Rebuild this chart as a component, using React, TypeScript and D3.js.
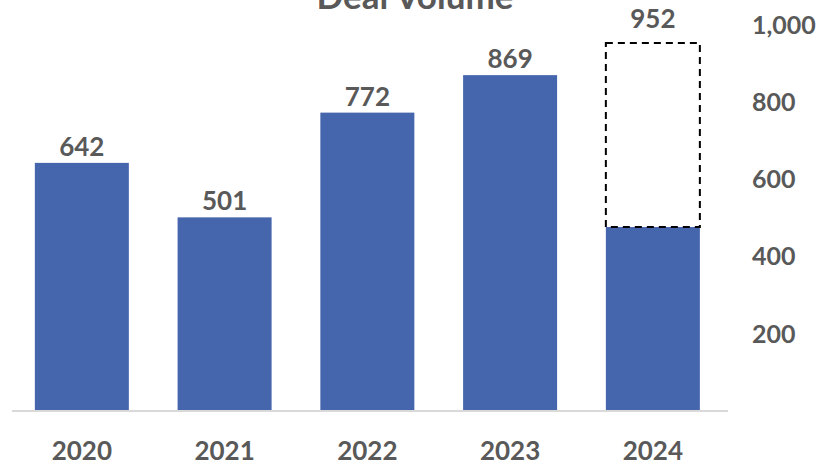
import React from "react";
import * as d3 from "d3";

const years = ["2020", "2021", "2022", "2023", "2024"];
const dealVolume = [642, 501, 772, 869, 476];
// 2024 full-year projection (dashed outline)
const projectedYear = "2024";
const projectedValue = 952;
const yTicks = [200, 400, 600, 800, 1000];

const width = 835;
const height = 465;
const font = "Lato, 'Open Sans', sans-serif";
const textColor = "#595959";

const App = () => {
  const x = d3
    .scaleBand<string>()
    .domain(years)
    .range([12, 722.7])
    .paddingInner(0.3415)
    .paddingOuter(0.16);

  const y = d3.scaleLinear().domain([0, 1000]).range([411, 24.5]);
  const fmt = d3.format(",");

  const px = x(projectedYear)!;

  return (
    <svg
      width={width}
      height={height}
      style={{ position: "absolute", left: 0, top: 0, background: "#fff" }}
    >
      <text
        x={415}
        y={9}
        textAnchor="middle"
        fontFamily={font}
        fontWeight={700}
        fontSize={35}
        fill={textColor}
      >
        Deal Volume
      </text>

      {/* bars */}
      {years.map((yr, i) => (
        <rect
          key={yr}
          x={x(yr)}
          y={y(dealVolume[i])}
          width={x.bandwidth()}
          height={y(0) - y(dealVolume[i])}
          fill="#4565ad"
        />
      ))}

      {/* projected outline */}
      <rect
        x={px}
        y={y(projectedValue)}
        width={x.bandwidth()}
        height={y(dealVolume[years.indexOf(projectedYear)]) - y(projectedValue)}
        fill="none"
        stroke="#000"
        strokeWidth={2}
        strokeDasharray="7 5"
      />

      {/* data labels */}
      {years.map((yr, i) => {
        const v = yr === projectedYear ? projectedValue : dealVolume[i];
        const off = yr === projectedYear ? 15 : 7;
        return (
          <text
            key={yr}
            x={x(yr)! + x.bandwidth() / 2}
            y={y(v) - off}
            textAnchor="middle"
            fontFamily={font}
            fontWeight={700}
            fontSize={26}
            fill={textColor}
          >
            {fmt(v)}
          </text>
        );
      })}

      {/* baseline */}
      <line x1={12} x2={728} y1={y(0)} y2={y(0)} stroke="#d9d9d9" strokeWidth={2} />

      {/* x labels */}
      {years.map((yr) => (
        <text
          key={yr}
          x={x(yr)! + x.bandwidth() / 2}
          y={460}
          textAnchor="middle"
          fontFamily={font}
          fontWeight={700}
          fontSize={26}
          fill={textColor}
        >
          {yr}
        </text>
      ))}

      {/* right axis labels */}
      {yTicks.map((t) => (
        <text
          key={t}
          x={752}
          y={y(t) + 9}
          fontFamily={font}
          fontWeight={700}
          fontSize={25}
          fill={textColor}
        >
          {fmt(t)}
        </text>
      ))}
    </svg>
  );
};

export default App;
